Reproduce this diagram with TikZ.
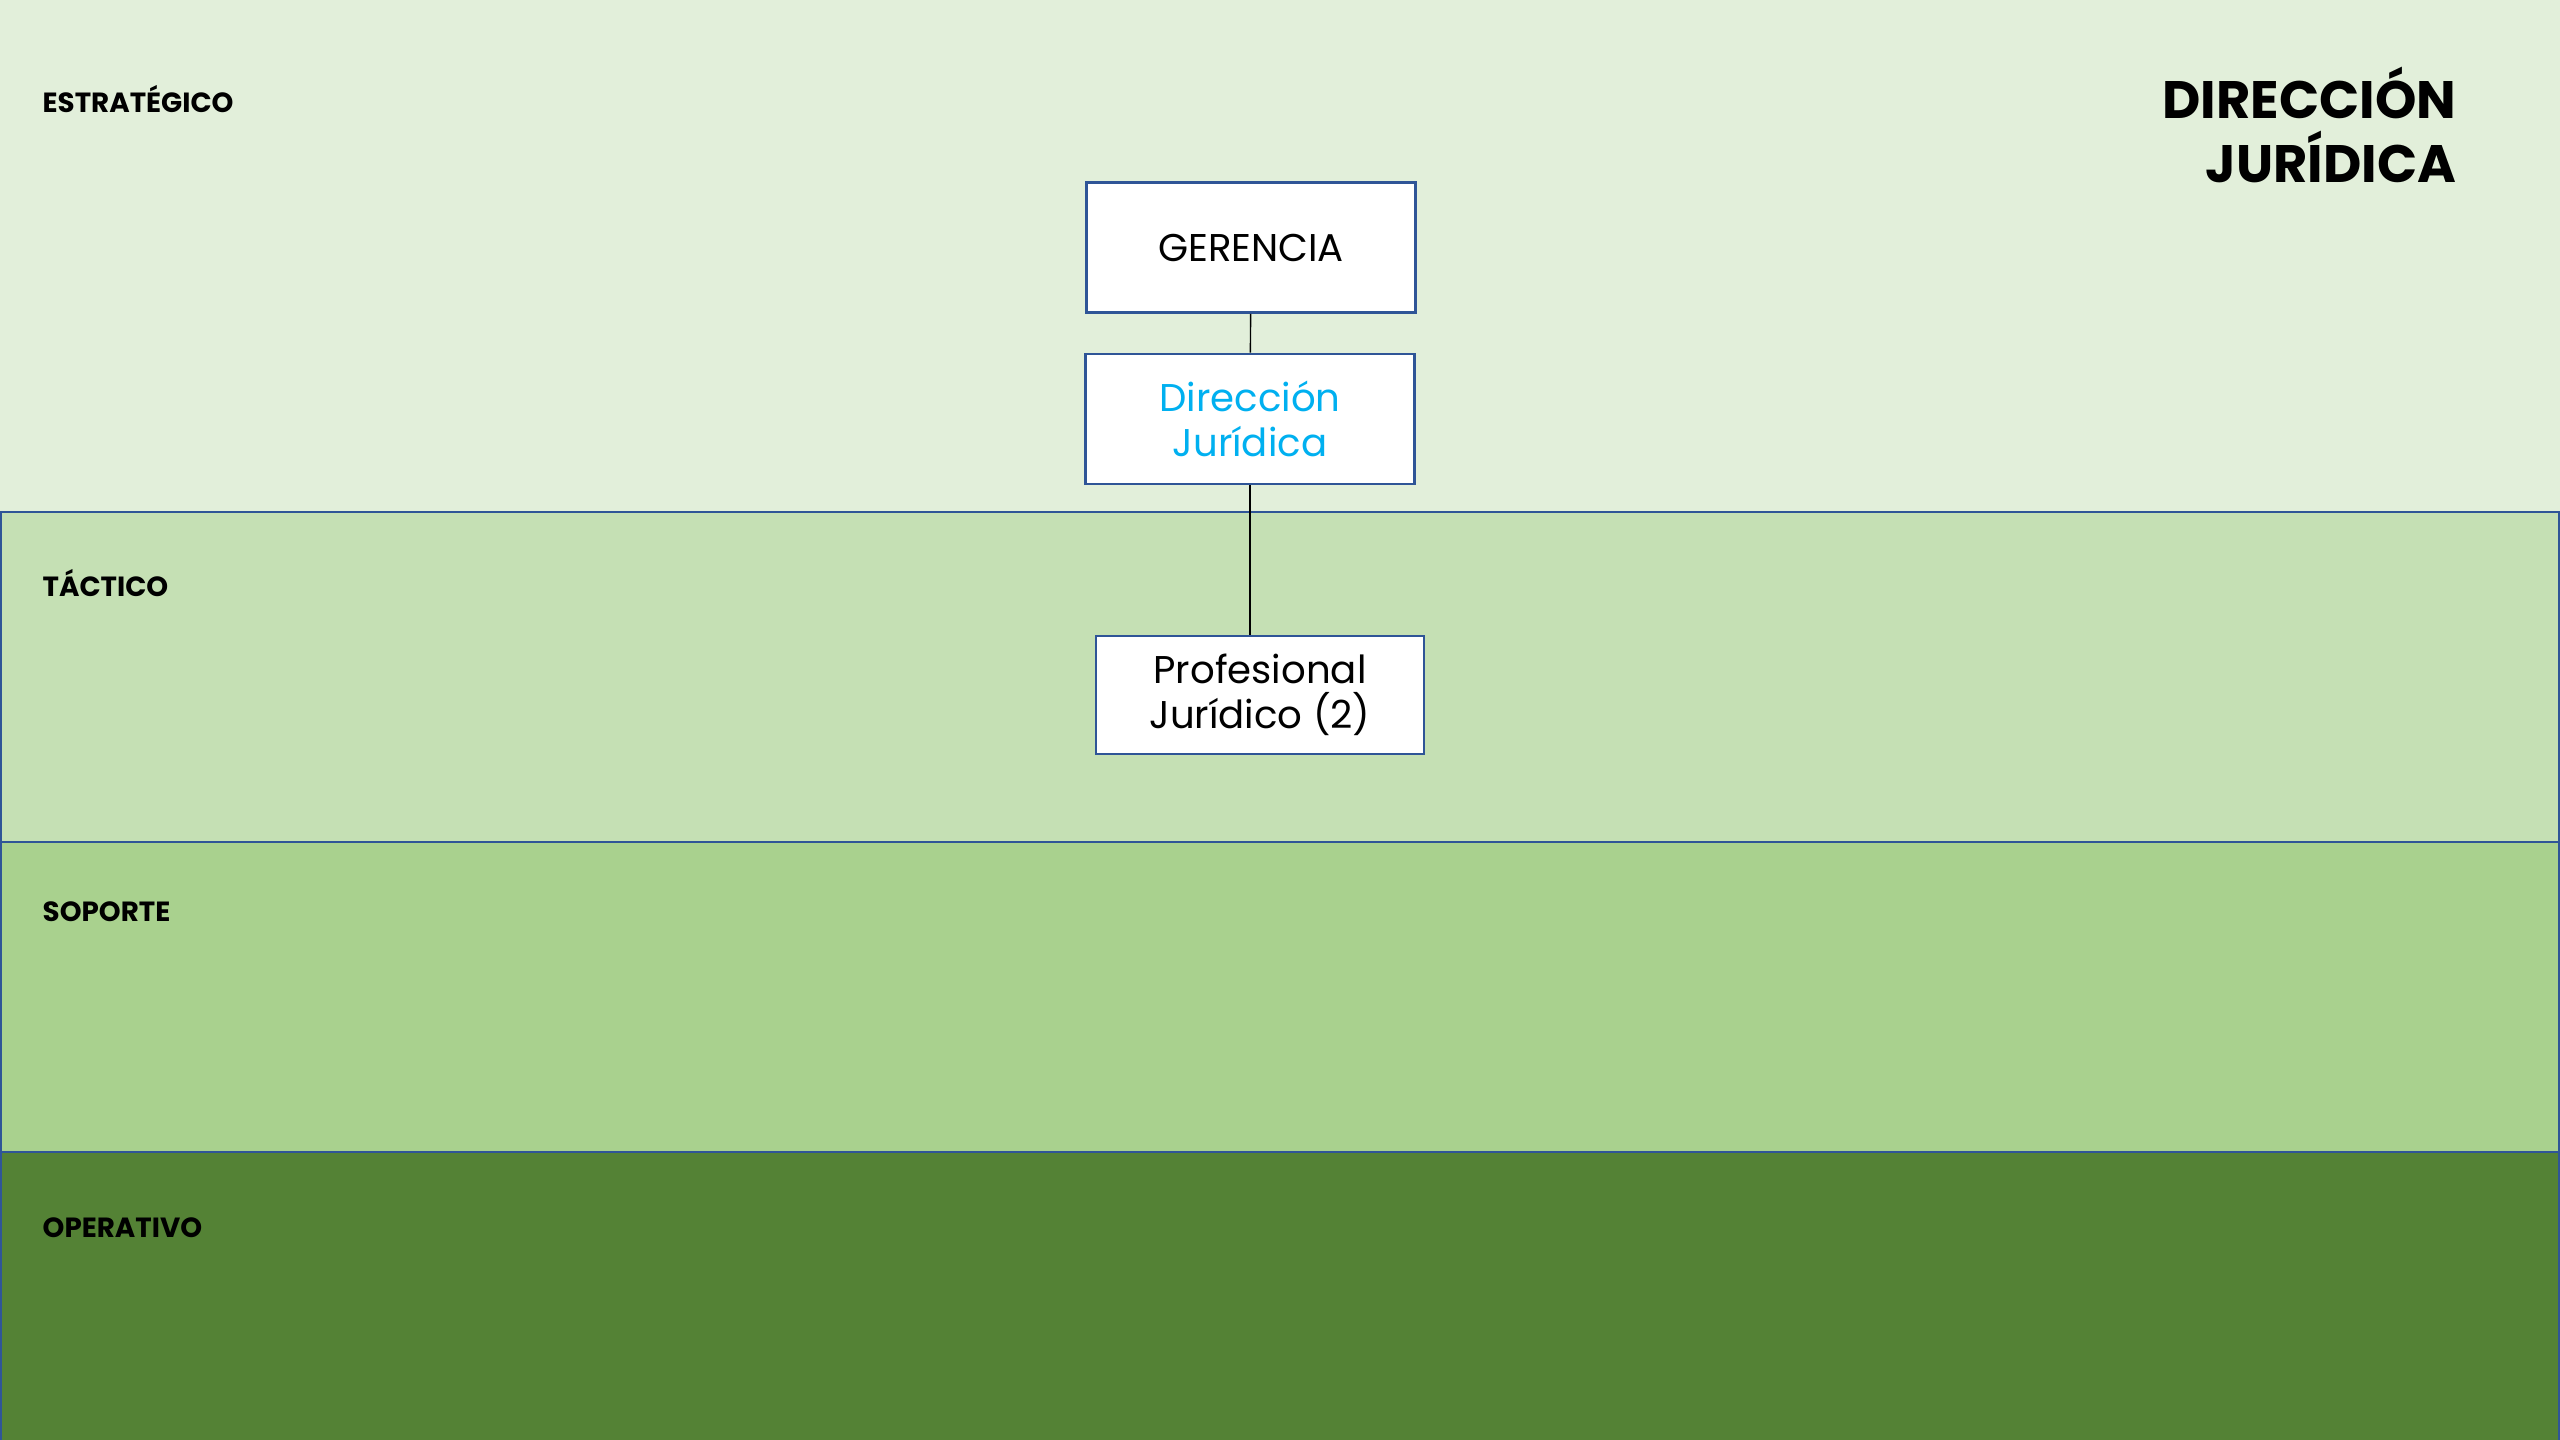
\documentclass[tikz,border=0pt]{standalone}
\usepackage{fontspec}
\setmainfont{Poppins}
\usetikzlibrary{positioning}
\definecolor{estrat}{HTML}{E2EFDA}
\definecolor{tact}{HTML}{C5E0B4}
\definecolor{sop}{HTML}{A9D18E}
\definecolor{oper}{HTML}{548235}
\definecolor{borde}{HTML}{2F5597}
\definecolor{celeste}{HTML}{00B0F0}
\tikzset{
	cargo/.style={draw=borde, line width=0.75pt, fill=white, minimum width=32.9mm, minimum height=13mm, align=center, inner sep=0pt, font=\fontsize{11}{12.8}\selectfont},
	nivel/.style={anchor=base west, inner sep=0pt, font=\bfseries\fontsize{7.9}{10}\selectfont},
	franja/.style={draw=borde, line width=0.6pt}
}
\begin{document}
\begin{tikzpicture}[x=0.1mm, y=-0.1mm]
	\useasboundingbox (0,0) rectangle (2560,1440);
	\fill[estrat] (0,0) rectangle (2560,512);
	\draw[franja, fill=tact] (1,512) rectangle (2559,842);
	\draw[franja, fill=sop] (1,842) rectangle (2559,1152);
	\draw[franja, fill=oper] (1,1152) rectangle (2559,1445);
	\node[nivel]	(e)	at (42, 113)	{ESTRATÉGICO};
	\node[nivel]	(t)	at (42, 597)	{TÁCTICO};
	\node[nivel]	(s)	at (42, 922)	{SOPORTE};
	\node[nivel]	(o)	at (42, 1237)	{OPERATIVO};
	\node[anchor=north east, align=right, inner sep=0pt, font=\bfseries\fontsize{15}{18.2}\selectfont] (titulo) at (2457, 66) {DIRECCIÓN\\JURÍDICA};
	\node[cargo]		(0)	at (1251, 247.5)	{GERENCIA};
	\node[cargo, text=celeste]	(1)	at (1250, 419)	{Dirección\\Jurídica};
	\node[cargo, minimum height=11.8mm, minimum width=32.8mm]	(2)	at (1260, 695)	{Profesional\\Jurídico (2)};
	\draw (0) -- (1);
	\draw (1.south) -- (1.south |- 2.north);
\end{tikzpicture}
\end{document}
